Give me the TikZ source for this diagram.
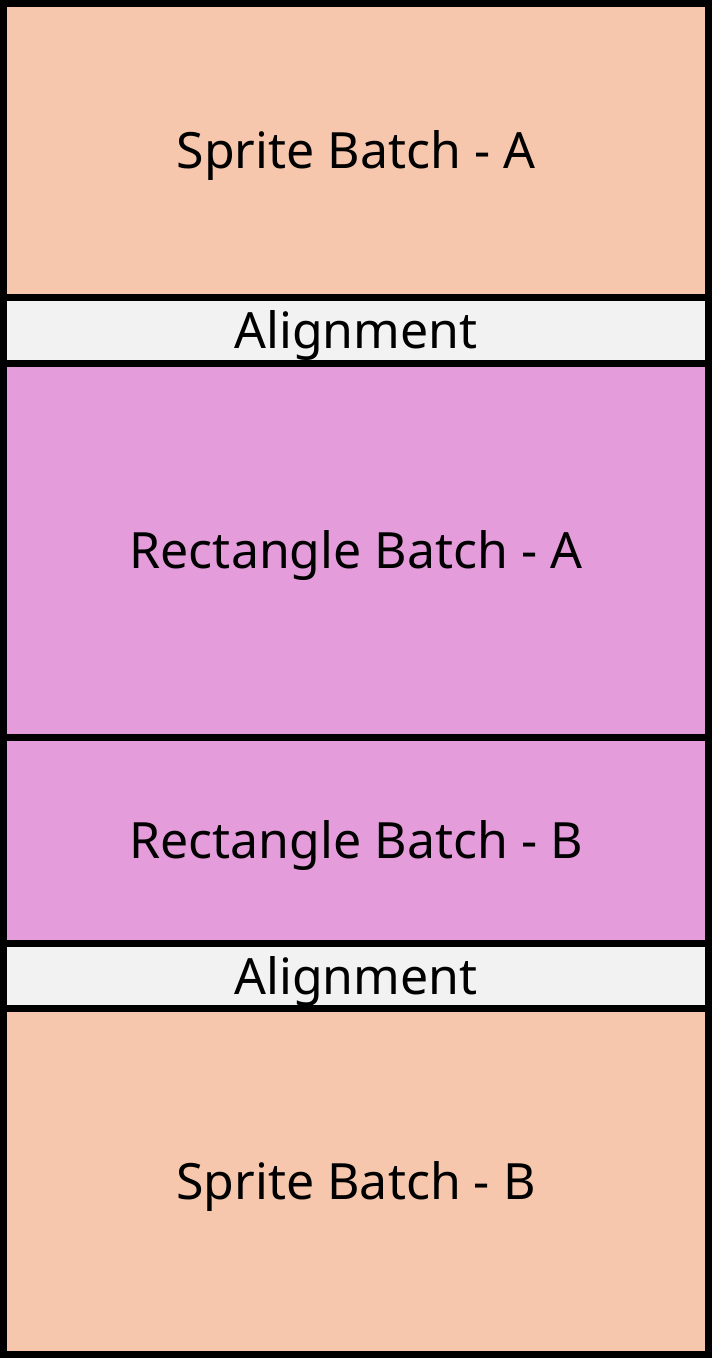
\documentclass[tikz,border=0pt]{standalone}
\usepackage{fontspec}
\setmainfont{Noto Sans}
\definecolor{peach}{RGB}{246,198,173}
\definecolor{orchid}{RGB}{228,156,219}
\definecolor{lightgrey}{RGB}{242,242,242}
\begin{document}
\begin{tikzpicture}[x=1pt,y=-1pt,
  band/.style={draw=black, line width=7pt, minimum width=705pt, inner sep=0pt, outer sep=0pt,
    font=\fontsize{50}{60}\selectfont, text height=36pt, text depth=0pt, anchor=north west}]
\useasboundingbox (0,0) rectangle (712,1358);
\node[band, fill=peach, minimum height=294pt] (sa) at (3.5,3.5) {Sprite Batch - A};
\node[band, fill=lightgrey, minimum height=66pt] (al1) at (3.5,297.5) {Alignment};
\node[band, fill=orchid, minimum height=374pt] (ra) at (3.5,363.5) {Rectangle Batch - A};
\node[band, fill=orchid, minimum height=206pt] (rb) at (3.5,737.5) {Rectangle Batch - B};
\node[band, fill=lightgrey, minimum height=65pt] (al2) at (3.5,943.5) {Alignment};
\node[band, fill=peach, minimum height=346pt] (sb) at (3.5,1008.5) {Sprite Batch - B};
\end{tikzpicture}
\end{document}
